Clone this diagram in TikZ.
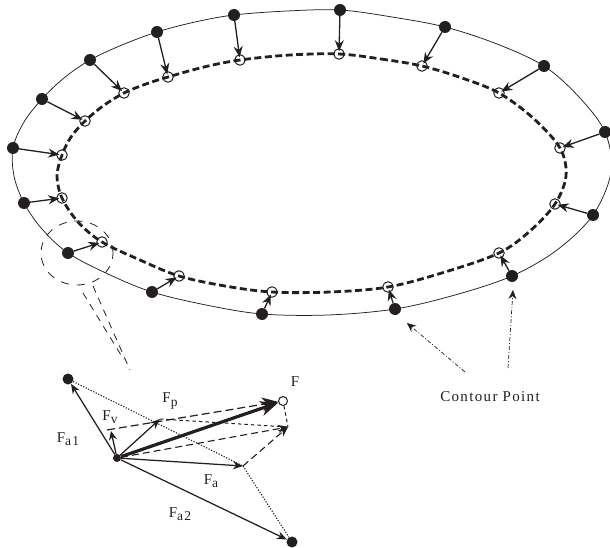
\documentclass[tikz,border=0pt]{standalone}
\usepackage{fontspec}
\setmainfont[LetterSpace=9]{Liberation Serif}
\usetikzlibrary{arrows.meta,shapes.geometric}
\definecolor{ink}{HTML}{231F20}
\newcommand{\subtxt}[1]{\raisebox{-3.5pt}{\fontsize{13.5}{15}\selectfont #1}}
\tikzset{
  x=1pt,y=-1pt,
  dot/.style={circle,fill=ink,inner sep=0pt,minimum size=12pt},
  ring/.style={circle,draw=ink,line width=1pt,inner sep=0pt,minimum size=10.5pt},
  hub/.style={circle,fill=ink,inner sep=0pt,minimum size=8pt},
  outerline/.style={draw=ink,line width=0.75pt},
  innerline/.style={draw=ink,line width=2.8pt,dash pattern=on 7pt off 3.5pt},
  push/.style={draw=ink,line width=1.3pt,-{Stealth[length=11pt,width=9pt]},shorten >=-3pt},
  vec/.style={draw=ink,line width=1.25pt,-{Stealth[length=10pt,width=8pt]}},
  dashvec/.style={draw=ink,line width=1.1pt,dash pattern=on 7pt off 4pt,-{Stealth[length=10pt,width=8pt]}},
  shortdash/.style={draw=ink,line width=1pt,dash pattern=on 3.5pt off 3pt},
  dotline/.style={draw=ink,line width=1.1pt,dash pattern=on 1.2pt off 1.6pt},
  zoomline/.style={draw=ink,line width=0.8pt,dash pattern=on 7pt off 6pt},
  callout/.style={draw=ink,line width=0.7pt,dash pattern=on 4pt off 2pt on 1pt off 2pt,-{Stealth[length=9pt,width=8pt]}},
  lab/.style={inner sep=0pt,text=ink,font=\fontsize{15}{17}\selectfont}
}
\begin{document}
\begin{tikzpicture}
\useasboundingbox (0,0) rectangle (610,548);
% contours
\draw[outerline] plot[smooth cycle,tension=0.55] coordinates {(340,10)(392,17)(445,27)(497,44)(544,66)(579,97)(605,132)(611,172)(593,215)(557,250)(512,276)(455,295)(395,309)(328,315)(262,314)(206,305)(152,292)(108,274)(68,253)(42,229)(24,203)(14,176)(13,148)(24,122)(42,99)(64,78)(90,60)(122,45)(157,32)(195,22)(234,15)(287,11)};
\draw[innerline] plot[smooth cycle,tension=0.55] coordinates {(339,54)(381,59)(422,66)(462,78)(499,93)(533,118)(560,148)(566,176)(555,204)(530,231)(499,253)(445,272)(388,287)(330,292)(272,292)(225,286)(179,276)(140,260)(102,242)(78,222)(62,198)(57,176)(62,155)(71,137)(85,121)(103,106)(124,93)(146,84)(168,77)(204,67)(240,60)(290,55)};
% points
\foreach \n/\ox/\oy/\ix/\iy in {1/340/10/339/54,2/445/27/422/66,3/544/66/499/93,4/605/132/560/148,5/593/215/555/204,6/512/276/499/253,7/395/309/388/287,8/262/314/272/292,9/152/292/179/276,10/68/253/102/242,11/24/203/62/198,12/13/148/62/155,13/42/99/85/121,14/90/60/124/93,15/157/32/168/77,16/234/15/240/60}{
  \node[dot] (o\n) at (\ox,\oy) {};
  \node[ring] (i\n) at (\ix,\iy) {};
  \draw[push] (o\n) -- (i\n);
}
% zoom ring
\node[draw=ink,line width=0.8pt,dash pattern=on 8pt off 8pt,ellipse,minimum width=72pt,minimum height=64pt,inner sep=0pt] (zoomring) at (77,253) {};
\coordinate (zs1) at (83,293);
\coordinate (zs2) at (93,286);
\coordinate (ze1) at (124,360);
\coordinate (ze2) at (130,370);
\draw[zoomline] (zs1) -- (ze1);
\draw[zoomline] (zs2) -- (ze2);
% callouts
\node[lab] (contour) at (490,397) {Contour Point};
\coordinate (c1) at (465,372);
\coordinate (c2) at (508,368);
\coordinate (t1) at (407,323);
\coordinate (t2) at (513,290);
\draw[callout] (c1) -- (t1);
\draw[callout] (c2) -- (t2);
% force diagram
\node[hub] (O) at (117,458) {};
\node[dot,minimum size=11pt] (A1) at (68,379) {};
\node[dot,minimum size=11pt] (A2) at (292,542) {};
\node[ring,minimum size=9pt] (F) at (283,401) {};
\coordinate (Fa) at (243,466);
\coordinate (Fp) at (160,419);
\coordinate (Fv) at (107,430);
\coordinate (Fvt) at (111,431);
\coordinate (R) at (288,427);
\draw[dotline] (A1) -- (Fa);
\draw[dotline] (Fa) -- (A2);
\draw[shortdash] (Fp) -- (R);
\draw[shortdash] (F) -- (R);
\draw[vec] (O) -- (A1);
\draw[vec] (O) -- (A2);
\draw[vec] (O) -- (Fa);
\draw[vec] (O) -- (Fp);
\draw[vec,-{Stealth[length=9pt,width=8pt]}] (O) -- (Fvt);
\draw[dashvec] (O) -- (R);
\draw[dashvec] (Fa) -- (R);
\draw[draw=ink,line width=1.2pt,dash pattern=on 8pt off 4pt,-{Stealth[length=16pt,width=14pt]}] (Fv) -- (F);
\draw[draw=ink,line width=3.2pt,-{Stealth[length=18pt,width=15pt]}] (O) -- (F);
% labels
\node[lab] (lFa1) at (68,439) {F\subtxt{a1}};
\node[lab] (lFv) at (110,417) {F\subtxt{v}};
\node[lab] (lFp) at (170,401) {F\subtxt{p}};
\node[lab] (lF) at (295,382) {F};
\node[lab] (lFa) at (211,481) {F\subtxt{a}};
\node[lab] (lFa2) at (180,514) {F\subtxt{a2}};
\end{tikzpicture}
\end{document}
